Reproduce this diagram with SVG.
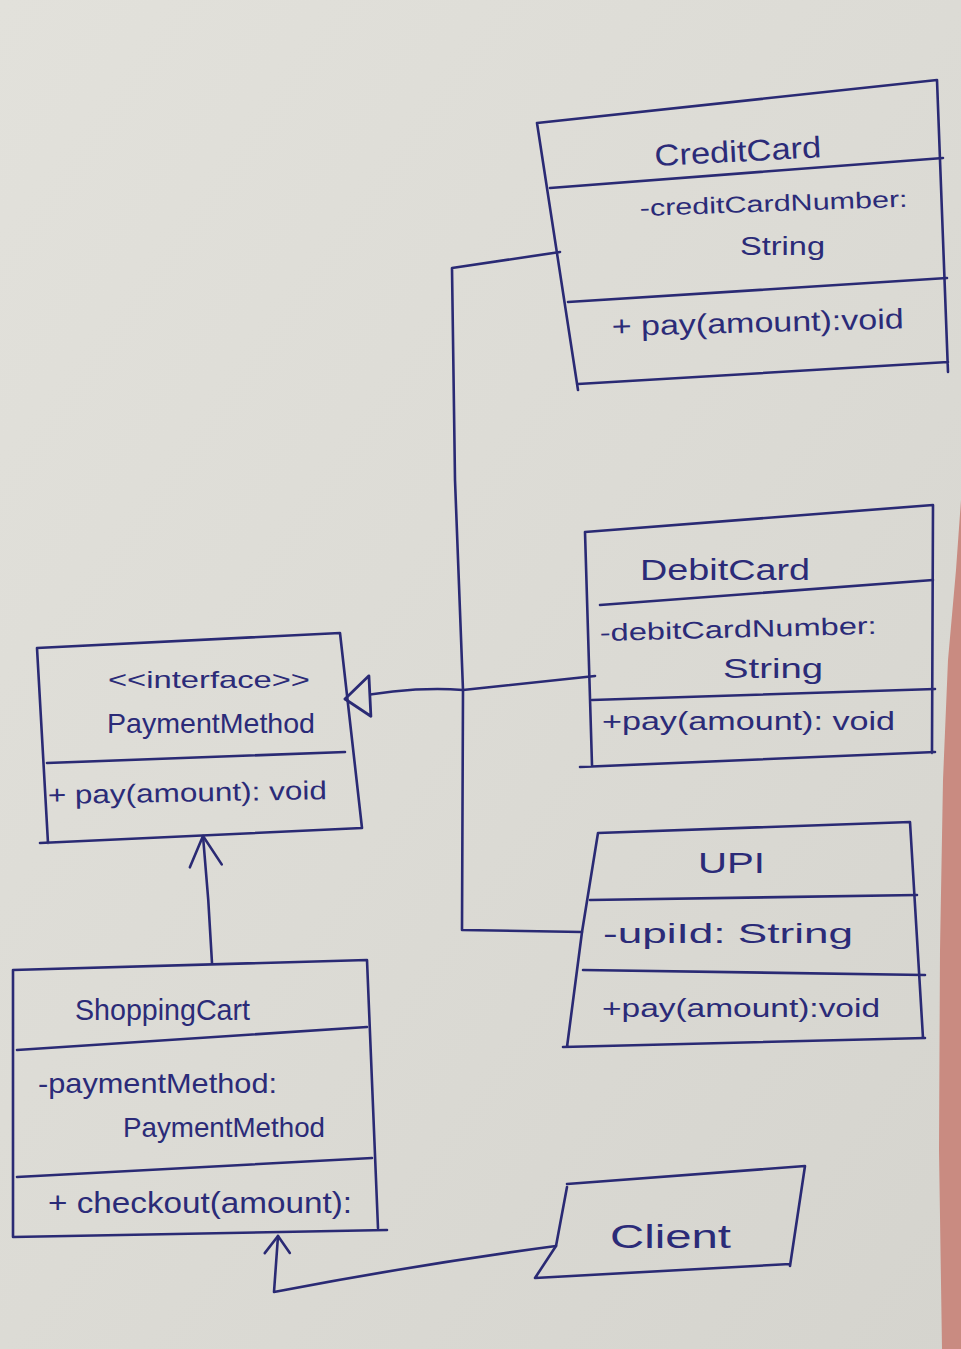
<svg xmlns="http://www.w3.org/2000/svg" width="961" height="1349" viewBox="0 0 961 1349">
  <defs>
    <linearGradient id="paper" x1="0" y1="0" x2="1" y2="1">
      <stop offset="0" stop-color="#e2e1db"/>
      <stop offset="0.5" stop-color="#dcdbd5"/>
      <stop offset="1" stop-color="#d5d4ce"/>
    </linearGradient>
    <marker id="open-arrow" markerUnits="userSpaceOnUse" viewBox="-34 -20 38 40" markerWidth="38" markerHeight="40" refX="0" refY="0" orient="auto">
      <path d="M -30,-16 L 0,0 L -30,16" fill="none" stroke="#2a2a74" stroke-width="2.6" stroke-linecap="round" stroke-linejoin="round"/>
    </marker>
    <marker id="open-arrow-sm" markerUnits="userSpaceOnUse" viewBox="-22 -16 26 32" markerWidth="26" markerHeight="32" refX="0" refY="0" orient="auto">
      <path d="M -18,-12 L 0,0 L -16,13" fill="none" stroke="#2a2a74" stroke-width="2.6" stroke-linecap="round" stroke-linejoin="round"/>
    </marker>
    <marker id="hollow-triangle" markerUnits="userSpaceOnUse" viewBox="-32 -24 36 48" markerWidth="36" markerHeight="48" refX="0" refY="0" orient="auto">
      <path d="M 0,0 L -22,-22 L -28,18 Z" fill="#dddcd6" stroke="#2a2a74" stroke-width="2.8" stroke-linejoin="round"/>
    </marker>
  </defs>
  <style>
    .ink { fill: none; stroke: #2a2a74; stroke-width: 2.6; stroke-linecap: round; stroke-linejoin: round; }
    .t { font-family: "Liberation Sans", "DejaVu Sans", sans-serif; fill: #2b2b78; }
  </style>

  <!-- paper -->
  <rect x="0" y="0" width="961" height="1349" fill="url(#paper)"/>
  <path d="M 961,500 L 956,570 L 948,660 L 943,780 L 940,950 L 939,1150 L 942,1349 L 961,1349 Z" fill="#c98b81"/>

  <!-- connectors -->
  <g id="connectors">
    <path class="ink" d="M 560,252 L 452,268 L 455,480 L 463,690 L 462,930 L 582,932"/>
    <path class="ink" d="M 463,690 L 595,676"/>
    <path class="ink" d="M 463,690 Q 410,686 345,699" marker-end="url(#hollow-triangle)"/>
    <path class="ink" d="M 212,963 Q 209,900 203,836" marker-end="url(#open-arrow)"/>
    <path class="ink" d="M 556,1246 Q 420,1264 274,1292 L 278,1236" marker-end="url(#open-arrow-sm)"/>
  </g>

  <!-- CreditCard -->
  <g id="CreditCard">
    <path class="ink" d="M 537,123 L 937,80 L 948,372 M 537,123 L 578,390 M 578,384 L 948,362"/>
    <path class="ink" d="M 550,188 L 943,158"/>
    <path class="ink" d="M 568,302 L 947,278"/>
    <text class="t" x="655" y="166" font-size="30" textLength="167" lengthAdjust="spacingAndGlyphs" transform="rotate(-3 655 166)">CreditCard</text>
    <text class="t" x="640" y="216" font-size="23" textLength="268" lengthAdjust="spacingAndGlyphs" transform="rotate(-2 640 216)">-creditCardNumber:</text>
    <text class="t" x="740" y="255" font-size="26" textLength="85" lengthAdjust="spacingAndGlyphs">String</text>
    <text class="t" x="612" y="336" font-size="28" textLength="292" lengthAdjust="spacingAndGlyphs" transform="rotate(-1.5 612 336)">+ pay(amount):void</text>
  </g>

  <!-- DebitCard -->
  <g id="DebitCard">
    <path class="ink" d="M 585,532 L 933,505 L 932,753 M 585,532 L 592,765 M 580,767 L 935,752"/>
    <path class="ink" d="M 600,605 L 933,580"/>
    <path class="ink" d="M 592,700 L 935,689"/>
    <text class="t" x="640" y="580" font-size="30" textLength="170" lengthAdjust="spacingAndGlyphs">DebitCard</text>
    <text class="t" x="600" y="641" font-size="24" textLength="277" lengthAdjust="spacingAndGlyphs" transform="rotate(-1.5 600 641)">-debitCardNumber:</text>
    <text class="t" x="723" y="678" font-size="28" textLength="100" lengthAdjust="spacingAndGlyphs">String</text>
    <text class="t" x="602" y="730" font-size="26" textLength="293" lengthAdjust="spacingAndGlyphs">+pay(amount): void</text>
  </g>

  <!-- PaymentMethod interface -->
  <g id="PaymentMethod">
    <path class="ink" d="M 37,648 L 340,633 L 362,828 M 37,648 L 48,843 M 40,843 L 362,828"/>
    <path class="ink" d="M 47,763 L 345,752"/>
    <text class="t" x="108" y="688" font-size="24" textLength="202" lengthAdjust="spacingAndGlyphs">&lt;&lt;interface&gt;&gt;</text>
    <text class="t" x="107" y="733" font-size="28" textLength="208" lengthAdjust="spacingAndGlyphs">PaymentMethod</text>
    <text class="t" x="48" y="804" font-size="26" textLength="279" lengthAdjust="spacingAndGlyphs" transform="rotate(-1 48 804)">+ pay(amount): void</text>
  </g>

  <!-- UPI -->
  <g id="UPI">
    <path class="ink" d="M 598,833 L 910,822 L 923,1038 M 598,833 L 582,932 L 567,1047 M 563,1047 L 925,1038"/>
    <path class="ink" d="M 590,900 L 917,895"/>
    <path class="ink" d="M 583,970 L 925,975"/>
    <text class="t" x="698" y="873" font-size="30" textLength="67" lengthAdjust="spacingAndGlyphs">UPI</text>
    <text class="t" x="603" y="943" font-size="28" textLength="250" lengthAdjust="spacingAndGlyphs">-upiId: String</text>
    <text class="t" x="602" y="1017" font-size="26" textLength="278" lengthAdjust="spacingAndGlyphs">+pay(amount):void</text>
  </g>

  <!-- ShoppingCart -->
  <g id="ShoppingCart">
    <path class="ink" d="M 13,970 L 367,960 L 378,1228 M 13,970 L 13,1237 M 13,1237 L 387,1230"/>
    <path class="ink" d="M 17,1050 L 367,1027"/>
    <path class="ink" d="M 17,1177 L 372,1158"/>
    <text class="t" x="75" y="1020" font-size="30" textLength="175" lengthAdjust="spacingAndGlyphs">ShoppingCart</text>
    <text class="t" x="38" y="1093" font-size="28" textLength="239" lengthAdjust="spacingAndGlyphs">-paymentMethod:</text>
    <text class="t" x="123" y="1137" font-size="28" textLength="202" lengthAdjust="spacingAndGlyphs">PaymentMethod</text>
    <text class="t" x="48" y="1213" font-size="30" textLength="304" lengthAdjust="spacingAndGlyphs">+ checkout(amount):</text>
  </g>

  <!-- Client -->
  <g id="Client">
    <path class="ink" d="M 567,1184 L 805,1166 L 790,1266 M 567,1187 L 556,1246 L 535,1278 M 535,1278 L 790,1264"/>
    <text class="t" x="610" y="1248" font-size="34" textLength="121" lengthAdjust="spacingAndGlyphs">Client</text>
  </g>
</svg>
